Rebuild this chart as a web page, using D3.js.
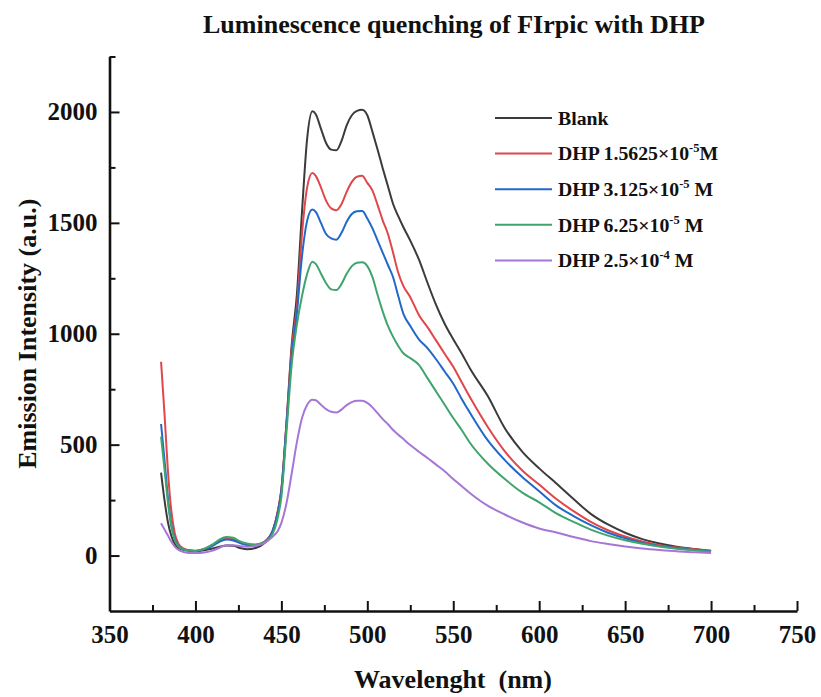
<!DOCTYPE html>
<html>
<head>
<meta charset="utf-8">
<script src="https://cdn.jsdelivr.net/npm/d3@7"></script>
<style>
  html, body { margin: 0; padding: 0; background: #fff; }
  svg { display: block; }
  text { font-family: "Liberation Serif", "Times New Roman", serif; font-weight: bold; fill: #111; }
</style>
</head>
<body>
<svg id="chart" width="821" height="697"></svg>
<script>
// Emission spectra of FIrpic quenched by increasing DHP concentration
const wavelength = [380,382,384,386,388,390,393,396,400,405,410,414,418,422,426,430,435,440,445,448,450,
  453,456,459,462,465,468,470,473,476,479,482,485,488,491,494,497,500,503,506,509,512,515,518,521,525,
  530,535,540,545,550,555,560,570,580,590,600,610,620,630,640,650,660,670,680,690,700];

const blank = [374,250,150,88,52,35,26,22,20,24,32,40,45,44,34,28,34,55,110,200,295,
  600,950,1174,1550,1880,2003,1990,1925,1860,1830,1827,1870,1940,1985,2005,2010,1985,1910,1830,1745,1665,1585,1530,1480,1420,
  1335,1230,1130,1045,975,910,840,720,574,470,393,325,255,188,140,103,74,54,40,30,22];

const dhp15625 = [874,640,380,200,100,55,32,25,22,30,48,68,78,74,58,50,48,62,115,205,300,
  600,930,1120,1450,1660,1725,1712,1660,1600,1565,1557,1585,1640,1685,1708,1712,1680,1645,1580,1510,1450,1365,1275,1215,1165,
  1085,1030,970,910,851,780,710,581,470,385,320,255,200,152,114,86,63,47,36,28,20];

const dhp3125 = [593,430,260,140,75,44,28,23,21,28,44,62,72,68,56,48,47,60,112,195,290,
  590,900,1090,1350,1510,1560,1550,1500,1450,1430,1424,1455,1505,1540,1552,1553,1520,1475,1420,1365,1310,1255,1170,1090,1035,
  975,935,885,830,775,705,640,520,430,355,290,225,178,137,103,78,57,43,33,25,18];

const dhp625 = [536,390,240,130,70,42,28,23,21,30,50,72,84,80,64,54,50,60,100,175,265,
  560,860,1040,1170,1270,1325,1315,1272,1228,1200,1197,1225,1270,1305,1320,1322,1305,1255,1175,1100,1035,986,945,912,890,
  860,800,740,680,620,565,505,415,345,285,240,190,152,117,90,69,53,41,31,24,17];

const dhp25 = [146,118,90,62,40,26,16,12,11,14,22,35,46,46,42,40,44,56,86,112,147,
  237,370,510,620,680,703,700,680,660,648,645,658,678,692,698,698,688,668,642,615,592,566,545,525,498,
  468,440,410,380,345,312,280,225,185,150,122,104,84,65,52,41,32,25,19,15,11];

// Legend entries: [text before superscript, superscript, text after]
const seriesNames = [
  ["Blank", "", ""],
  ["DHP 1.5625×10", "-5", "M"],
  ["DHP 3.125×10", "-5", " M"],
  ["DHP 6.25×10", "-5", " M"],
  ["DHP 2.5×10", "-4", " M"]
];
const seriesValues = [blank, dhp15625, dhp3125, dhp625, dhp25];
const seriesColors = ["#3b3b3b", "#e0474b", "#2268c8", "#3fa46e", "#a676d6"];

const xMajor = [350,400,450,500,550,600,650,700,750];
const xMinor = [375,425,475,525,575,625,675,725];
const yMajor = [0,500,1000,1500,2000];
const yMinor = [250,750,1250,1750,2250];

const svg = d3.select("#chart");

const x = d3.scaleLinear().domain([350, 750]).range([109.5, 797]);
const y = d3.scaleLinear().domain([-250, 2250]).range([611, 56.5]);

// Axes with inward ticks
const axisFont = 25;

const gx = svg.append("g").attr("transform", `translate(0,${y(-250)})`);
gx.call(d3.axisBottom(x).tickValues(xMajor).tickSizeInner(-10).tickSizeOuter(0).tickPadding(14).tickFormat(d3.format("d")));
const gxm = svg.append("g").attr("transform", `translate(0,${y(-250)})`);
gxm.call(d3.axisBottom(x).tickValues(xMinor).tickSizeInner(-6).tickSizeOuter(0).tickFormat(""));
gxm.select(".domain").remove();

const gy = svg.append("g").attr("transform", `translate(${x(350)},0)`);
gy.call(d3.axisLeft(y).tickValues(yMajor).tickSizeInner(-10).tickSizeOuter(0).tickPadding(12).tickFormat(d3.format("d")));
const gym = svg.append("g").attr("transform", `translate(${x(350)},0)`);
gym.call(d3.axisLeft(y).tickValues(yMinor).tickSizeInner(-6).tickSizeOuter(0).tickFormat(""));
gym.select(".domain").remove();

svg.selectAll(".domain").attr("stroke", "#111").attr("stroke-width", 2.6);
svg.selectAll(".tick line").attr("stroke", "#111").attr("stroke-width", 2);
svg.selectAll(".tick text")
  .attr("font-family", "Liberation Serif, Times New Roman, serif")
  .attr("font-weight", "bold")
  .attr("font-size", axisFont)
  .attr("fill", "#111");

// Spectra
const line = d3.line()
  .x((d, i) => x(wavelength[i]))
  .y(d => y(d))
  .curve(d3.curveMonotoneX);

svg.append("g").selectAll("path")
  .data(seriesValues)
  .join("path")
  .attr("d", d => line(d))
  .attr("fill", "none")
  .attr("stroke", (d, i) => seriesColors[i])
  .attr("stroke-width", 2)
  .attr("stroke-linejoin", "round");

// Legend
const legend = svg.append("g");
seriesNames.forEach((nm, i) => {
  const ly = 118 + i * 35.6;
  legend.append("line")
    .attr("x1", 495).attr("x2", 552)
    .attr("y1", ly).attr("y2", ly)
    .attr("stroke", seriesColors[i]).attr("stroke-width", 2);
  const t = legend.append("text")
    .attr("x", 558).attr("y", ly + 6.8)
    .attr("font-size", 19.8);
  t.append("tspan").text(nm[0]);
  if (nm[1]) {
    t.append("tspan").attr("dy", -8).attr("font-size", 12.5).text(nm[1]);
    t.append("tspan").attr("dy", 8).text(nm[2]);
  }
});

// Titles
svg.append("text")
  .attr("x", 454).attr("y", 33)
  .attr("text-anchor", "middle")
  .attr("font-size", 26)
  .text("Luminescence quenching of FIrpic with DHP");

svg.append("text")
  .attr("x", 453).attr("y", 688)
  .attr("text-anchor", "middle")
  .attr("font-size", 26)
  .attr("xml:space", "preserve")
  .style("white-space", "pre")
  .text("Wavelenght  (nm)");

svg.append("text")
  .attr("transform", `translate(36,${y(1000)}) rotate(-90)`)
  .attr("text-anchor", "middle")
  .attr("font-size", 26)
  .text("Emission Intensity (a.u.)");
</script>
</body>
</html>
